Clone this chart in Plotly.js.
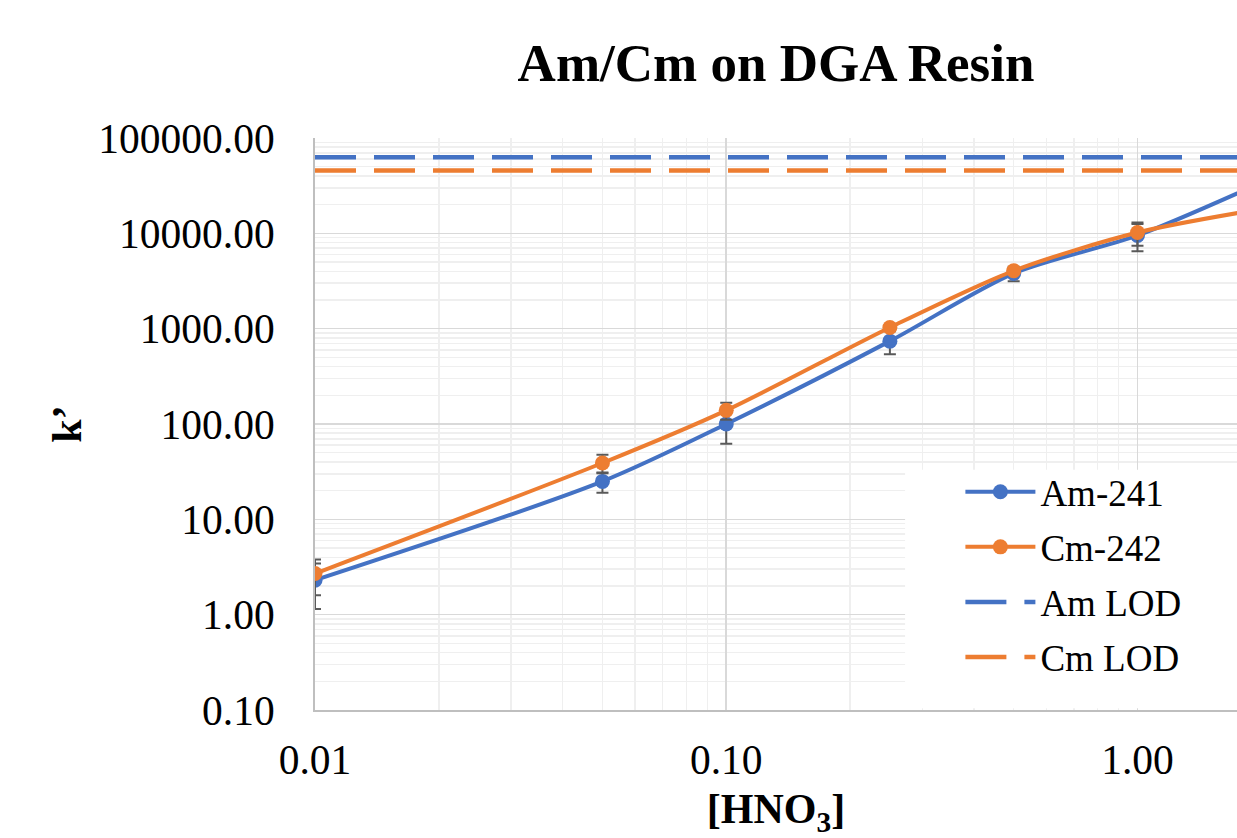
<!DOCTYPE html>
<html>
<head>
<meta charset="utf-8">
<script src="https://cdn.plot.ly/plotly-3.0.1.min.js"></script>
<style>
  html, body { margin: 0; padding: 0; background: #ffffff; }
  #chart { width: 1237px; height: 838px; }
</style>
</head>
<body>
<div id="chart"></div>
<script>
// HNO3 concentration (M)
const hno3 = [0.01, 0.05, 0.1, 0.25, 0.5, 1, 2];

// Retention factor k' for each nuclide, with error bar half-widths
const am241 = [2.3, 25, 100, 740, 3800, 9500, 34000];
const am241Err = [1.15, 6, 38, 200, 650, 3000, 0];
const cm242 = [2.7, 39, 139, 1030, 4050, 10200, 18000];
const cm242Err = [1.1, 8.5, 28, 60, 250, 2800, 0];

// Limits of detection
const lodX = [0.01, 10];
const amLOD = [63000, 63000];
const cmLOD = [45500, 45500];

const BLUE = '#4472C4';
const ORANGE = '#ED7D31';
const SERIF = '"Liberation Serif", "Times New Roman", serif';

const errStyle = (arr) => ({
  type: 'data', array: arr, visible: true,
  color: '#595959', thickness: 2, width: 6
});

const traces = [
  {
    x: hno3, y: am241, name: 'Am-241', type: 'scatter', mode: 'lines+markers',
    line: { color: BLUE, width: 4, shape: 'spline', smoothing: 0.8 },
    marker: { color: BLUE, size: 15 },
    error_y: errStyle(am241Err),
    legendgroup: 'g1'
  },
  {
    x: hno3, y: cm242, name: 'Cm-242', type: 'scatter', mode: 'lines+markers',
    line: { color: ORANGE, width: 4, shape: 'spline', smoothing: 0.8 },
    marker: { color: ORANGE, size: 15 },
    error_y: errStyle(cm242Err),
    legendgroup: 'g2'
  },
  {
    x: lodX, y: amLOD, name: 'Am LOD', type: 'scatter', mode: 'lines',
    line: { color: BLUE, width: 4.5, dash: '41px,18px' },
    legendgroup: 'g3'
  },
  {
    x: lodX, y: cmLOD, name: 'Cm LOD', type: 'scatter', mode: 'lines',
    line: { color: ORANGE, width: 4.5, dash: '41px,18px' },
    legendgroup: 'g4'
  }
];

const layout = {
  width: 1237,
  height: 838,
  margin: { l: 315, r: 0, t: 138, b: 128 },
  paper_bgcolor: '#ffffff',
  plot_bgcolor: '#ffffff',
  font: { family: SERIF, color: '#000000', size: 41 },
  title: {
    text: '<b>Am/Cm on DGA Resin</b>',
    font: { family: SERIF, size: 53, color: '#000000' },
    x: 0.5, xref: 'paper', xanchor: 'center',
    y: 0.926, yref: 'container', yanchor: 'middle'
  },
  xaxis: {
    type: 'log',
    range: [-2, 0.242],
    dtick: 1,
    tickformat: '.2f',
    tickfont: { family: SERIF, size: 41.5, color: '#000000' },
    ticks: '',
    ticklabelstandoff: 12,
    showgrid: true,
    gridcolor: '#d9d9d9',
    gridwidth: 1.5,
    minor: { dtick: 'D1', showgrid: true, gridcolor: '#efefef', gridwidth: 1.5, ticks: '' },
    showline: true,
    linecolor: '#bfbfbf',
    linewidth: 2,
    zeroline: false,
    title: {
      text: '<b>[HNO<sub>3</sub>]</b>',
      font: { family: SERIF, size: 42, color: '#000000' },
      standoff: 23
    }
  },
  yaxis: {
    type: 'log',
    range: [-1, 5],
    dtick: 1,
    tickformat: '.2f',
    tickfont: { family: SERIF, size: 41.5, color: '#000000' },
    ticks: '',
    ticklabelstandoff: 30,
    showgrid: true,
    gridcolor: '#d9d9d9',
    gridwidth: 1.5,
    minor: { dtick: 'D1', showgrid: true, gridcolor: '#efefef', gridwidth: 1.5, ticks: '' },
    showline: true,
    linecolor: '#bfbfbf',
    linewidth: 2,
    zeroline: false,
    title: {
      text: '<b>k’</b>',
      font: { family: SERIF, size: 42, color: '#000000' },
      standoff: 4
    }
  },
  // white panel behind the legend, hiding the grid in the lower-right corner
  shapes: [
    {
      type: 'rect', xref: 'paper', yref: 'paper',
      x0: 0.64, x1: 1, y0: 0.003, y1: 0.42,
      fillcolor: '#ffffff', line: { width: 0 },
      layer: 'above'
    }
  ],
  showlegend: true,
  legend: {
    x: 0.70, xanchor: 'left',
    y: 0.435, yanchor: 'top',
    bgcolor: 'rgba(255,255,255,0)',
    borderwidth: 0,
    font: { family: SERIF, size: 37, color: '#000000' },
    traceorder: 'grouped',
    tracegroupgap: 4,
    itemwidth: 70
  }
};

Plotly.newPlot('chart', traces, layout, { staticPlot: true, displayModeBar: false });
</script>
</body>
</html>
